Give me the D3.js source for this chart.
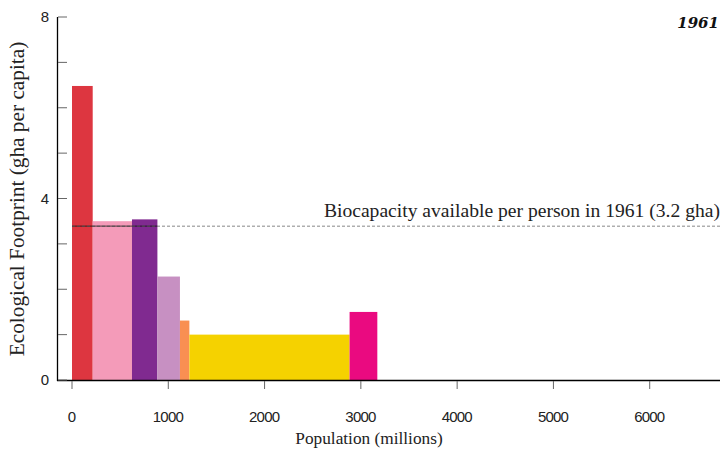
<!DOCTYPE html>
<html><head><meta charset="utf-8">
<script src="https://cdn.jsdelivr.net/npm/d3@7"></script>
<style>body{margin:0;background:#fff}svg{display:block}</style>
</head><body><svg id="c" width="724" height="452"></svg>
<script>
const regions = ["R1","R2","R3","R4","R5","R6","R7"];
const populations = [215, 408, 264, 234, 98, 1664, 288];
const footprints = [6.48, 3.50, 3.54, 2.28, 1.31, 1.00, 1.50];
const colors = ["#dd3640","#f49bb9","#802a90","#c790c2","#f98f52","#f5d200","#ea0a80"];
const xTicks = [0,1000,2000,3000,4000,5000,6000];
const yTicks = [0,1,2,3,4,5,6,7,8];
const yLabels = [0,4,8];
const biocap = 3.39;
const bioLabel = "Biocapacity available per person in 1961 (3.2 gha)";
const year = "1961";

const serif = "'Liberation Serif', 'Times New Roman', serif";
const svg = d3.select("#c");
const x = d3.scaleLinear().domain([0, 6730]).range([72, 720]);
const y = d3.scaleLinear().domain([0, 8]).range([380, 17]);

let cum = 0;
const bars = populations.map((p,i)=>{const b={x0:cum,x1:cum+p,v:footprints[i],c:colors[i]};cum+=p;return b;});

svg.append("g").selectAll("rect").data(bars).join("rect")
  .attr("x",d=>x(d.x0)).attr("width",d=>x(d.x1)-x(d.x0))
  .attr("y",d=>y(d.v)).attr("height",d=>y(0)-y(d.v))
  .attr("fill",d=>d.c);

// biocapacity line
svg.append("line").attr("x1",x(0)).attr("x2",720).attr("y1",y(biocap)).attr("y2",y(biocap))
  .attr("stroke","#888").attr("stroke-width",1).attr("stroke-dasharray","3,2");
const coverEnd = bars.filter(b=>b.v>biocap).reduce((m,b)=>Math.max(m,b.x1),0);
svg.append("line").attr("x1",x(0)).attr("x2",x(coverEnd)).attr("y1",y(biocap)).attr("y2",y(biocap))
  .attr("stroke","#000").attr("stroke-opacity",0.55).attr("stroke-width",1.2);
svg.append("text").attr("x",720).attr("y",217).attr("text-anchor","end")
  .attr("font-family",serif).attr("font-size",19.6).attr("fill","#222")
  .text(bioLabel);

// x axis
const xa = svg.append("g");
xa.append("line").attr("x1",57).attr("x2",720).attr("y1",380.5).attr("y2",380.5).attr("stroke","#000").attr("stroke-width",1.3);
xa.selectAll("line.t").data(xTicks).join("line").attr("class","t")
  .attr("x1",d=>x(d)).attr("x2",d=>x(d)).attr("y1",381).attr("y2",389).attr("stroke","#666");
xa.selectAll("text").data(xTicks).join("text")
  .attr("x",d=>x(d)).attr("y",422).attr("text-anchor","middle")
  .attr("font-family","'Liberation Sans', Arial, sans-serif").attr("font-size",15).attr("fill","#222")
  .attr("textLength",d=>String(d).length>1?31:null)
  .text(d=>d);

// y axis
const ya = svg.append("g");
ya.append("line").attr("x1",57.5).attr("x2",57.5).attr("y1",17).attr("y2",381).attr("stroke","#000").attr("stroke-width",1.3);
ya.selectAll("line.t").data(yTicks).join("line").attr("class","t")
  .attr("x1",58).attr("x2",67).attr("y1",d=>y(d)).attr("y2",d=>y(d)).attr("stroke","#666");
ya.selectAll("text").data(yLabels).join("text")
  .attr("x",49).attr("y",d=>y(d)+5).attr("text-anchor","end")
  .attr("font-family","'Liberation Sans', Arial, sans-serif").attr("font-size",15).attr("fill","#222")
  .text(d=>d);

svg.append("text").attr("transform","translate(24,199) rotate(-90)").attr("text-anchor","middle")
  .attr("font-family",serif).attr("font-size",21.3).attr("fill","#222")
  .text("Ecological Footprint (gha per capita)");
svg.append("text").attr("x",369).attr("y",444).attr("text-anchor","middle")
  .attr("font-family",serif).attr("font-size",17.3).attr("fill","#222")
  .text("Population (millions)");
svg.append("text").attr("x",719).attr("y",28).attr("text-anchor","end")
  .attr("font-family","'DejaVu Serif', serif").attr("font-size",15).attr("font-weight","bold").attr("font-style","italic").attr("fill","#111")
  .text(year);
</script></body></html>
